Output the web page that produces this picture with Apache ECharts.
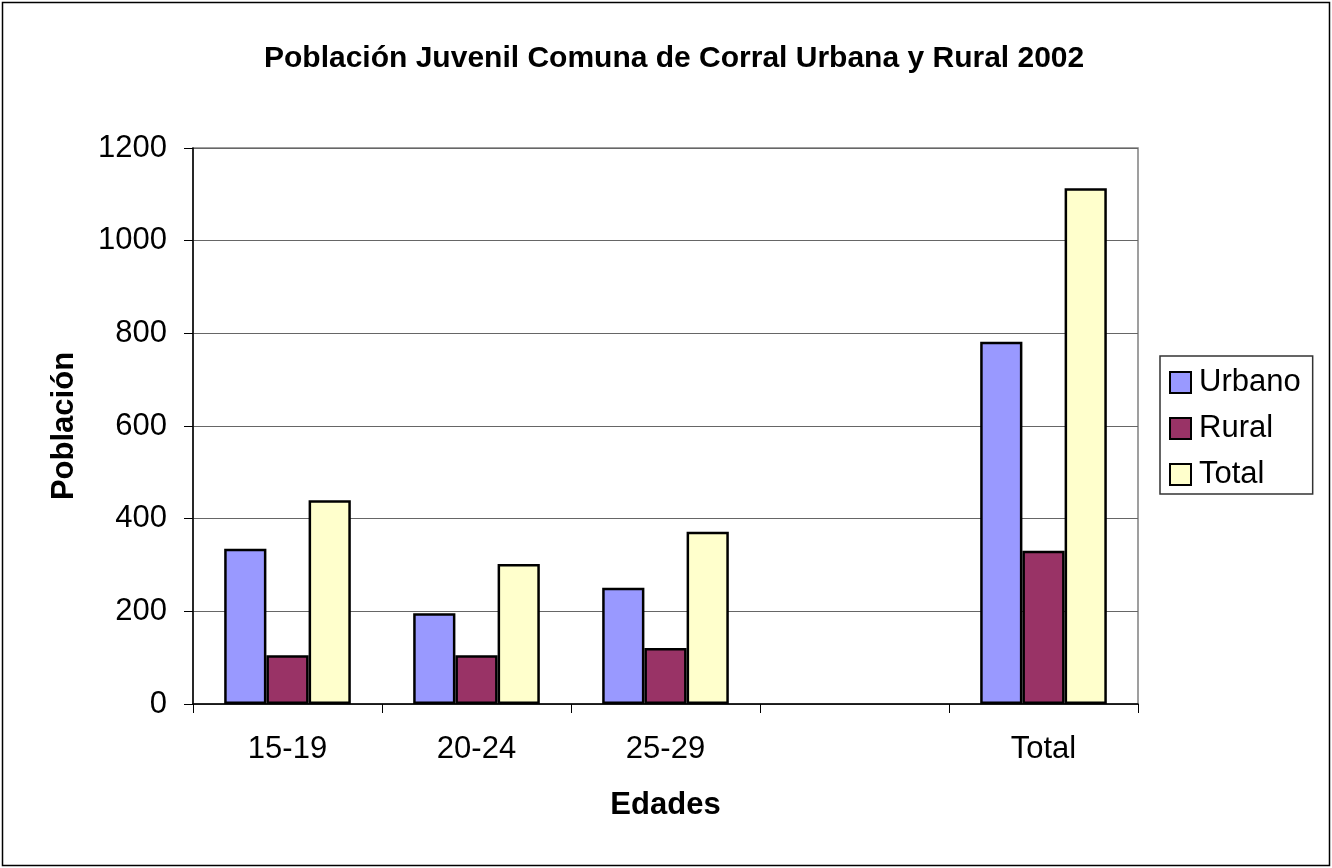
<!DOCTYPE html>
<html>
<head>
<meta charset="utf-8">
<script src="https://cdn.jsdelivr.net/npm/echarts@6/dist/echarts.min.js"></script>
<style>
html,body{margin:0;padding:0;background:#fff;}
#chart{width:1332px;height:868px;}
</style>
</head>
<body>
<div id="chart"></div>
<script>
const categories = ['15-19', '20-24', '25-29', '', 'Total'];
const urbano = [335, 196, 251, null, 782];
const rural = [105, 105, 121, null, 331];
const total = [440, 302, 372, null, 1113];
const yTicks = [0, 200, 400, 600, 800, 1000, 1200];

const FONT = 'Liberation Sans, Arial, sans-serif';
const chart = echarts.init(document.getElementById('chart'));
const barStyle = (c) => ({ color: c, borderColor: '#000', borderWidth: 2.5 });
chart.setOption({
  animation: false,
  backgroundColor: '#fff',
  title: {
    text: 'Población Juvenil Comuna de Corral Urbana y Rural 2002',
    left: 259, top: 39,
    textStyle: { fontFamily: FONT, fontWeight: 'bold', fontSize: 30, color: '#000' }
  },
  graphic: [{
    type: 'rect', shape: { x: 2.5, y: 2.5, width: 1327, height: 863 },
    style: { fill: 'none', stroke: '#000', lineWidth: 1.5 }, silent: true
  }],
  legend: {
    orient: 'vertical', left: 1160, top: 356,
    padding: [11, 12, 4, 9],
    itemWidth: 21, itemHeight: 21, itemGap: 15,
    borderColor: '#333', borderWidth: 1.5,
    icon: 'rect',
    textStyle: { fontFamily: FONT, fontSize: 31, color: '#000', padding: [0, 0, 0, 3] },
    data: ['Urbano', 'Rural', 'Total']
  },
  grid: { left: 193, right: 194, top: 148, bottom: 164, show: true, borderColor: '#808080', borderWidth: 1.5 },
  xAxis: {
    type: 'category', data: categories,
    name: 'Edades', nameLocation: 'middle', nameGap: 86,
    nameTextStyle: { fontFamily: FONT, fontWeight: 'bold', fontSize: 31, color: '#000' },
    axisLine: { lineStyle: { color: '#000', width: 1.5 } },
    axisTick: { show: true, length: 9, lineStyle: { color: '#000' }, inside: false },
    axisLabel: { fontFamily: FONT, fontSize: 31, color: '#000', margin: 30 }
  },
  yAxis: {
    type: 'value', min: 0, max: 1200, interval: 200,
    name: 'Población', nameLocation: 'middle', nameGap: 113, nameRotate: 90,
    nameTextStyle: { fontFamily: FONT, fontWeight: 'bold', fontSize: 31, color: '#000' },
    axisLine: { show: true, lineStyle: { color: '#000', width: 1.5 } },
    axisTick: { show: true, length: 9, lineStyle: { color: '#000' } },
    axisLabel: { fontFamily: FONT, fontSize: 31, color: '#000', margin: 26,
      formatter: (v) => yTicks.includes(v) ? String(v) : '' },
    splitLine: { show: true, lineStyle: { color: '#666', width: 1.2 } }
  },
  series: [
    { name: 'Urbano', type: 'bar', data: urbano, barGap: '0%', barCategoryGap: '33%', itemStyle: barStyle('#9999FF') },
    { name: 'Rural', type: 'bar', data: rural, barGap: '0%', barCategoryGap: '33%', itemStyle: barStyle('#993366') },
    { name: 'Total', type: 'bar', data: total, barGap: '0%', barCategoryGap: '33%', itemStyle: barStyle('#FFFFCC') }
  ]
});
</script>
</body>
</html>
